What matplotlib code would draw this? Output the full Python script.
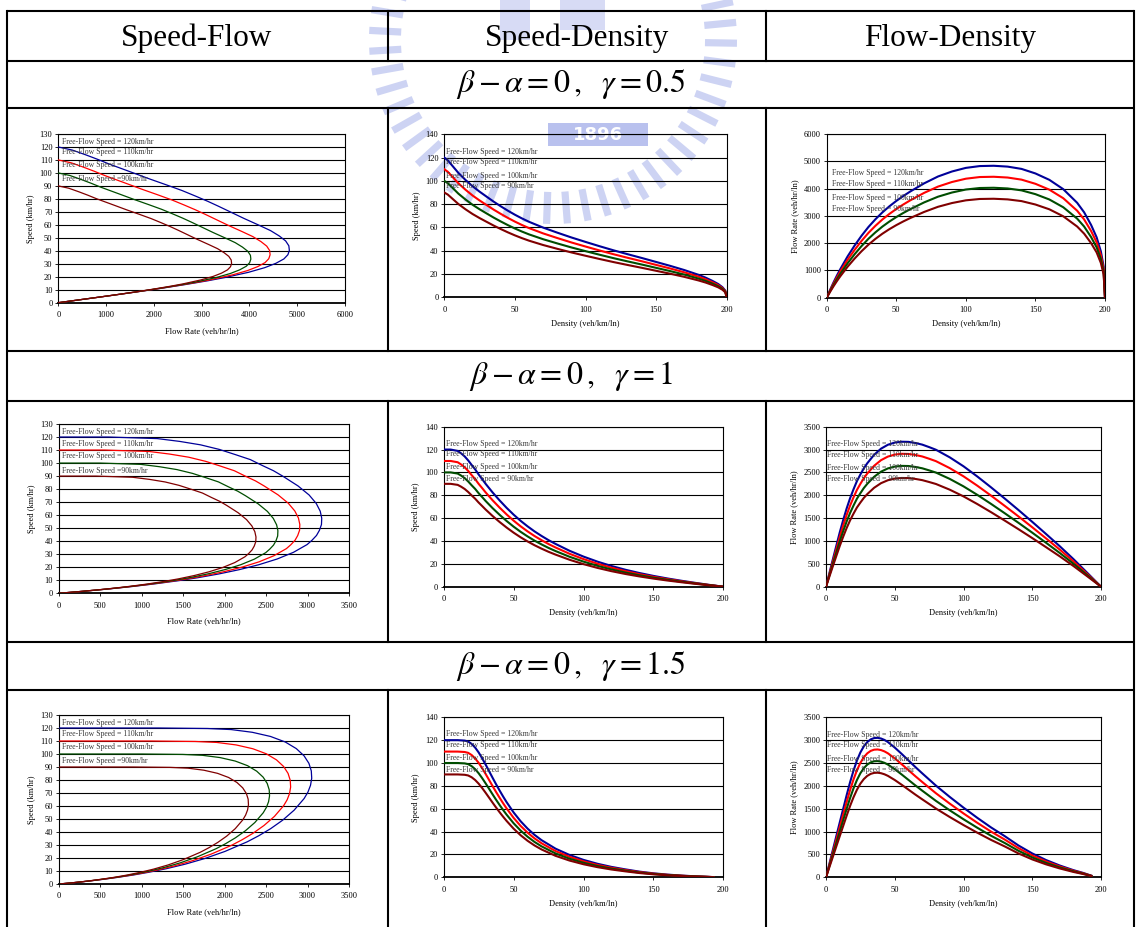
import numpy as np
import matplotlib
matplotlib.use("Agg")
import matplotlib.pyplot as plt
from matplotlib.patches import Polygon, Rectangle

# ---------------- data ----------------
FREE_FLOW_SPEEDS = [120, 110, 100, 90]
CURVE_COLORS = ["#000099", "#ff0000", "#004d00", "#800000"]

LABELS_SPEED_FLOW = ["Free-Flow Speed = 120km/hr", "Free-Flow Speed = 110km/hr",
                     "Free-Flow Speed = 100km/hr", "Free-Flow Speed =90km/hr"]
LABELS_DENSITY = ["Free-Flow Speed = 120km/hr", "Free-Flow Speed = 110km/hr",
                  "Free-Flow Speed = 100km/hr", "Free-Flow Speed = 90km/hr"]

COLUMN_TITLES = ["Speed-Flow", "Speed-Density", "Flow-Density"]
ROW_TITLES = [r"$\beta-\alpha=0\,,\ \ \gamma=0.5$",
              r"$\beta-\alpha=0\,,\ \ \gamma=1$",
              r"$\beta-\alpha=0\,,\ \ \gamma=1.5$"]

# density (veh/km/ln) and speed / free-flow-speed
DENSITY_G05 = [0, 2.5, 5, 7.5, 10, 15, 20, 25, 30, 35, 40, 45, 50, 55, 60, 70, 80, 90,
               100, 110, 120, 130, 140, 150, 160, 170, 180, 185, 190, 194, 197, 199, 200]
SPEED_RATIO_G05 = [1.0, 0.98, 0.95, 0.92, 0.89, 0.84, 0.795, 0.756, 0.72, 0.6843, 0.6513,
                   0.62, 0.591, 0.5645, 0.5404, 0.4989, 0.4628, 0.4283, 0.3965, 0.3655,
                   0.3358, 0.308, 0.281, 0.253, 0.225, 0.195, 0.161, 0.141, 0.117, 0.095,
                   0.072, 0.048, 0.0]

DENSITY_G10 = [0, 5, 10, 12.5, 15, 17.5, 20, 22.5, 25, 27.5, 30, 35, 40, 45, 50, 55, 60,
               65, 70, 75, 80, 90, 100, 110, 120, 130, 140, 150, 160, 170, 180, 190, 200]
SPEED_RATIO_G10 = [1.0, 1.0, 0.99, 0.972, 0.95, 0.921, 0.8875, 0.8556, 0.818, 0.7845, 0.75,
                   0.687, 0.629, 0.575, 0.5255, 0.4805, 0.44, 0.403, 0.37, 0.3393, 0.312,
                   0.262, 0.2195, 0.1827, 0.151, 0.1236, 0.0998, 0.0788, 0.0601, 0.0434,
                   0.0279, 0.0133, 0.0]

DENSITY_G15 = [0, 5, 10, 15, 17.5, 20, 22.5, 25, 27.5, 30, 32.5, 35, 37.5, 40, 42.5, 45,
               50, 55, 60, 65, 70, 80, 90, 100, 110, 120, 130, 140, 150, 160, 170, 180,
               187, 193]
SPEED_RATIO_G15 = [1.0, 1.0, 1.0, 0.9967, 0.990, 0.9725, 0.9458, 0.9104, 0.868, 0.8217,
                   0.7735, 0.7251, 0.6779, 0.6325, 0.5892, 0.548, 0.473, 0.4091, 0.355,
                   0.3092, 0.2707, 0.2088, 0.1628, 0.127, 0.0986, 0.0758, 0.0577, 0.0414,
                   0.029, 0.0197, 0.01265, 0.00722, 0.00428, 0.00155]

ROW_DENSITY = [DENSITY_G05, DENSITY_G10, DENSITY_G15]
ROW_RATIO = [SPEED_RATIO_G05, SPEED_RATIO_G10, SPEED_RATIO_G15]

FLOW_TICKS = [[0, 1000, 2000, 3000, 4000, 5000, 6000],
              [0, 500, 1000, 1500, 2000, 2500, 3000, 3500],
              [0, 500, 1000, 1500, 2000, 2500, 3000, 3500]]
SPEED_TICKS_SF = [0, 10, 20, 30, 40, 50, 60, 70, 80, 90, 100, 110, 120, 130]
SPEED_TICKS_SD = [0, 20, 40, 60, 80, 100, 120, 140]
DENSITY_TICKS = [0, 50, 100, 150, 200]

# ---------------- layout ----------------
W, H = 1136, 927
fig = plt.figure(figsize=(W / 100, H / 100), dpi=100)
fig.patch.set_facecolor("white")

bg = fig.add_axes([0, 0, 1, 1])
bg.set_xlim(0, W)
bg.set_ylim(H, 0)
bg.axis("off")
bg.set_zorder(-5)

# faint watermark (university logo) behind the table
wm = "#cdd3f3"
cx, cy, r_in, r_out = 553, 40, 152, 184
for ang in np.arange(-25, 206, 6.5):
    t = np.deg2rad(ang)
    nx, ny = np.cos(t), np.sin(t)
    px, py = -ny, nx
    hw = 3.6
    pts = [(cx + r_in * nx + hw * px, cy + r_in * ny + hw * py),
           (cx + r_out * nx + hw * px, cy + r_out * ny + hw * py),
           (cx + r_out * nx - hw * px, cy + r_out * ny - hw * py),
           (cx + r_in * nx - hw * px, cy + r_in * ny - hw * py)]
    bg.add_patch(Polygon(pts, closed=True, facecolor=wm, edgecolor="none", zorder=0))
bg.add_patch(Rectangle((548, 123), 100, 23, facecolor="#b9c1ee", edgecolor="none", zorder=0))
bg.text(598, 135, "1896", color="white", fontsize=13, fontweight="bold",
        ha="center", va="center", family="DejaVu Sans", zorder=0.5)
bg.add_patch(Rectangle((500, 0), 30, 40, facecolor=wm, edgecolor="none", zorder=0, alpha=0.8))
bg.add_patch(Rectangle((560, 0), 45, 30, facecolor=wm, edgecolor="none", zorder=0, alpha=0.8))

# table grid
LW_TAB = 1.5
x_left, x_c1, x_c2, x_right = 7, 388, 766, 1134
h_lines = [11, 61, 108, 351, 401, 642, 690]
for y in h_lines:
    bg.plot([x_left, x_right], [y, y], color="black", lw=LW_TAB, solid_capstyle="butt", zorder=2)
bg.plot([x_left, x_left], [11, H + 5], color="black", lw=LW_TAB, zorder=2)
bg.plot([x_right, x_right], [11, H + 5], color="black", lw=LW_TAB, zorder=2)
for (y0, y1) in [(11, 61), (108, 351), (401, 642), (690, H + 5)]:
    for x in (x_c1, x_c2):
        bg.plot([x, x], [y0, y1], color="black", lw=LW_TAB, zorder=2)

for txt, xc in zip(COLUMN_TITLES, [197, 577, 950]):
    bg.text(xc, 38, txt, fontsize=22.5, family="Liberation Serif", ha="center", va="center", zorder=3)

plt.rcParams["mathtext.fontset"] = "stix"
for txt, yc in zip(ROW_TITLES, [84, 376, 666]):
    bg.text(571, yc, txt, fontsize=23, ha="center", va="center", zorder=3)

PANEL_BOXES = [
    [(58.3, 134, 345, 302.7), (444.3, 134.3, 726.7, 297.3), (826.7, 134, 1105, 297.7)],
    [(58.7, 424, 349, 593.3), (443.7, 426.7, 723.3, 586.7), (826, 426.7, 1101, 586.7)],
    [(58.7, 715, 349, 884), (443.7, 717.3, 723.3, 877.3), (826, 717.3, 1101, 877.3)],
]
YLABEL_OFF = [27, 27.5, 32]
XLABEL_OFF = [28, 26.5, 26.5]

# annotation anchor (data coords) per panel: x, list of y
LABEL_POS = [
    [(70, [124.1, 115.9, 106.1, 95.1]), (1.0, [124.6, 116, 104, 95.4]), (3.6, [4560, 4170, 3643, 3264])],
    [(44, [123.6, 114.9, 105.2, 94.2]), (1.4, [124.5, 115.7, 104.4, 94.5]), (0.7, [3129, 2888, 2604, 2356])],
    [(44, [124.1, 115.6, 105.1, 94.9]), (1.4, [125.4, 115.5, 104.1, 94.2]), (0.7, [3122, 2888, 2597, 2356])],
]

SERIF = "Liberation Serif"
FS = 6


def make_axes(box):
    x0, y0, x1, y1 = box
    ax = fig.add_axes([x0 / W, 1 - y1 / H, (x1 - x0) / W, (y1 - y0) / H])
    ax.set_facecolor("none")
    for s in ax.spines.values():
        s.set_color("black")
        s.set_linewidth(0.8)
    ax.spines["bottom"].set_linewidth(1.3)
    ax.tick_params(axis="both", labelsize=FS, length=2, width=0.6, direction="out")
    ax.tick_params(axis="y", pad=2.2)
    ax.tick_params(axis="x", pad=4)
    ax.yaxis.grid(True, color="black", lw=0.8)
    ax.set_axisbelow(True)
    return ax


def finish(ax, box, col, xlabel, ylabel):
    x0, y0, x1, y1 = box
    w, h = x1 - x0, y1 - y0
    for lab in ax.get_xticklabels() + ax.get_yticklabels():
        lab.set_family(SERIF)
        lab.set_fontsize(FS)
    ax.text(-YLABEL_OFF[col] / w, 0.5, ylabel, rotation=90, transform=ax.transAxes,
            ha="center", va="center", fontsize=FS, family=SERIF)
    ax.text(0.5, -XLABEL_OFF[col] / h, xlabel, transform=ax.transAxes,
            ha="center", va="center", fontsize=FS, family=SERIF)


def annotate(ax, pos, labels):
    lx, lys = pos
    for t, yy in zip(labels, lys):
        ax.text(lx, yy, t, fontsize=5.6, family=SERIF, color="#3a3a3a",
                va="center", ha="left", zorder=4)


for r in range(3):
    dens = np.array(ROW_DENSITY[r], dtype=float)
    ratio = np.array(ROW_RATIO[r], dtype=float)
    curves = []
    for vf in FREE_FLOW_SPEEDS:
        speed = vf * ratio
        flow = dens * speed
        curves.append((speed, flow))

    # Speed-Flow
    box = PANEL_BOXES[r][0]
    ax = make_axes(box)
    for (speed, flow), c in zip(curves, CURVE_COLORS):
        ax.plot(flow, speed, color=c, lw=0.9, zorder=3)
    ax.set_xlim(FLOW_TICKS[r][0], FLOW_TICKS[r][-1])
    ax.set_xticks(FLOW_TICKS[r])
    ax.set_ylim(0, 130)
    ax.set_yticks(SPEED_TICKS_SF)
    annotate(ax, LABEL_POS[r][0], LABELS_SPEED_FLOW)
    finish(ax, box, 0, "Flow Rate (veh/hr/ln)", "Speed (km/hr)")

    # Speed-Density
    box = PANEL_BOXES[r][1]
    ax = make_axes(box)
    for (speed, flow), c in zip(curves, CURVE_COLORS):
        ax.plot(dens, speed, color=c, lw=1.5, zorder=3)
    ax.set_xlim(0, 200)
    ax.set_xticks(DENSITY_TICKS)
    ax.set_ylim(0, 140)
    ax.set_yticks(SPEED_TICKS_SD)
    annotate(ax, LABEL_POS[r][1], LABELS_DENSITY)
    finish(ax, box, 1, "Density (veh/km/ln)", "Speed (km/hr)")

    # Flow-Density
    box = PANEL_BOXES[r][2]
    ax = make_axes(box)
    for (speed, flow), c in zip(curves, CURVE_COLORS):
        ax.plot(dens, flow, color=c, lw=1.5, zorder=3)
    ax.set_xlim(0, 200)
    ax.set_xticks(DENSITY_TICKS)
    ax.set_ylim(FLOW_TICKS[r][0], FLOW_TICKS[r][-1])
    ax.set_yticks(FLOW_TICKS[r])
    annotate(ax, LABEL_POS[r][2], LABELS_DENSITY)
    finish(ax, box, 2, "Density (veh/km/ln)", "Flow Rate (veh/hr/ln)")

fig.savefig("out.png", dpi=100, facecolor="white")
